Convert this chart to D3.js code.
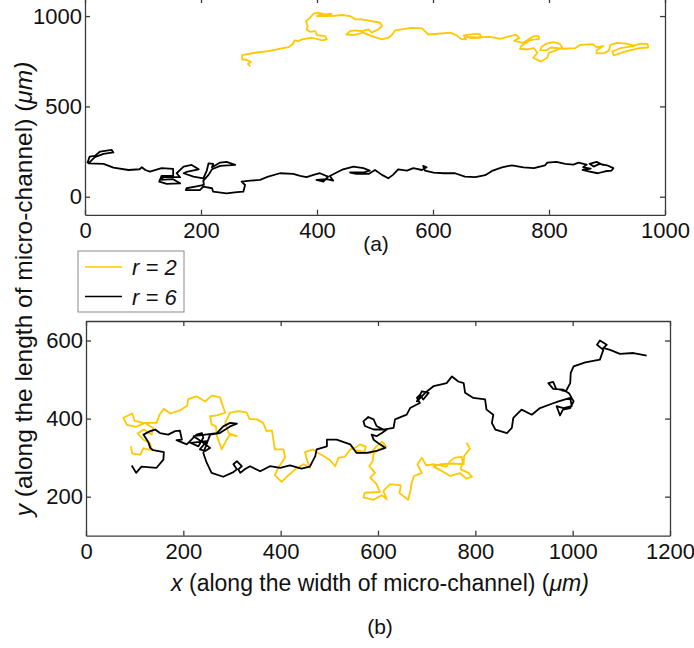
<!DOCTYPE html>
<html>
<head>
<meta charset="utf-8">
<script src="https://cdn.jsdelivr.net/npm/d3@7"></script>
<style>
body { margin: 0; background: #fff; }
text { font-family: "Liberation Sans", Arial, sans-serif; }
</style>
</head>
<body>
<script>
const wid = 694, hei = 648;     // width & height

// (a) r = 2 track, [x, y] in um
const trackA2 = [
    [285,722],[281,735],[286,747],[277,759],[271,759],[271,784],[293,797],[316,806],[339,821],[351,828],
    [359,847],[361,865],[368,861],[374,871],[391,880],[409,865],[417,871],[414,889],[400,895],[397,917],
    [388,913],[382,926],[384,945],[381,972],[388,991],[394,1013],[402,1019],[414,1009],[425,1013],[420,1000],
    [400,1000],[405,1009],[425,1000],[443,1006],[457,1000],[466,982],[477,982],[494,972],[509,963],[512,945],
    [506,926],[499,917],[494,908],[489,926],[477,917],[466,921],[457,917],[451,898],[463,895],[480,908],
    [494,889],[512,871],[523,880],[529,895],[535,921],[546,926],[563,935],[581,932],[586,917],[592,898],
    [609,902],[630,908],[641,893],[648,874],[657,871],[653,893],[670,900],[681,900],[683,880],[667,878],
    [658,885],[675,882],[698,885],[716,874],[733,889],[743,897],[749,878],[740,863],[755,852],[763,867],
    [774,889],[782,889],[783,874],[768,867],[753,837],[750,819],[763,815],[774,822],[780,797],[773,769],
    [786,748],[797,769],[800,797],[813,811],[823,826],[818,848],[808,856],[796,848],[787,830],[785,811],
    [795,810],[803,826],[824,819],[845,822],[854,841],[875,845],[882,828],[894,834],[882,811],[882,793],
    [895,795],[903,808],[906,841],[917,852],[933,848],[946,837],[958,848],[970,845],[971,826],[956,822],
    [941,811],[925,797],[912,782],[909,804],[923,822],[937,830],[948,834]
];

// (a) r = 6 track
const trackA6 = [
    [4,185],[8,222],[17,226],[26,250],[46,259],[49,245],[32,237],[17,219],[6,185],[32,182],
    [49,161],[75,148],[94,152],[98,163],[104,148],[112,139],[132,158],[152,154],[152,115],[132,115],
    [128,84],[141,71],[164,74],[152,97],[129,93],[135,108],[164,108],[158,130],[170,167],[184,176],
    [196,152],[175,137],[170,130],[187,111],[204,102],[210,145],[213,185],[221,182],[219,163],[233,189],
    [244,193],[259,176],[233,171],[219,152],[213,121],[204,89],[205,65],[190,56],[175,47],[174,37],
    [198,37],[204,56],[219,47],[221,28],[244,19],[262,26],[273,28],[276,65],[270,84],[285,89],
    [302,93],[313,108],[336,130],[359,126],[371,115],[382,108],[394,121],[405,130],[419,111],[411,84],
    [399,93],[417,97],[428,89],[422,115],[445,152],[463,167],[480,158],[491,145],[480,134],[457,134],
    [468,126],[489,126],[500,148],[512,121],[523,102],[531,121],[540,152],[555,145],[566,158],[581,148],
    [589,163],[583,171],[586,145],[601,134],[618,130],[638,130],[655,111],[673,108],[690,119],[703,145],
    [719,163],[736,174],[756,163],[774,158],[793,173],[797,189],[813,193],[828,182],[842,178],[851,189],
    [865,178],[859,163],[872,156],[858,148],[868,141],[884,130],[897,141],[908,145],[911,158],[900,174],
    [887,182],[877,167],[870,182],[882,193],[894,174]
];

// (b) r = 2 track
const trackB2 = [
    [92,329],[95,311],[111,307],[118,324],[135,319],[132,336],[118,346],[106,362],[119,372],[135,359],
    [138,376],[121,389],[103,379],[84,384],[77,402],[95,413],[100,394],[118,389],[145,389],[151,410],
    [160,425],[173,413],[193,421],[208,433],[210,450],[227,457],[245,444],[258,459],[275,455],[281,433],
    [286,415],[269,408],[255,406],[258,385],[267,380],[269,355],[279,321],[289,346],[296,359],[310,355],
    [293,363],[286,389],[296,415],[313,419],[330,416],[336,399],[351,398],[364,389],[371,368],[382,370],
    [385,346],[388,321],[406,321],[409,300],[395,274],[388,255],[402,238],[416,255],[430,270],[447,283],
    [460,274],[454,295],[450,314],[467,321],[474,314],[488,304],[501,294],[512,278],[519,300],[532,302],
    [543,321],[553,325],[563,334],[575,328],[571,312],[560,311],[556,319],[584,311],[597,329],[608,341],
    [617,328],[601,321],[591,311],[589,291],[582,278],[594,261],[584,249],[597,232],[604,212],[573,210],
    [570,198],[591,192],[608,204],[618,193],[611,215],[625,232],[647,229],[644,209],[662,192],[667,217],
    [669,234],[674,253],[690,261],[681,283],[690,300],[699,280],[714,283],[728,280],[741,277],[748,291],
    [758,300],[772,302],[774,289],[770,270],[786,261],[793,251],[781,246],[769,260],[748,253],[731,266],
    [714,277],[728,283],[755,285],[776,283],[777,304],[789,323],[782,338]
];

// (b) r = 6 track
const trackB6 = [
    [94,280],[103,261],[114,277],[145,274],[159,295],[160,314],[138,319],[132,325],[128,340],[118,359],
    [132,368],[142,372],[152,363],[169,359],[183,368],[193,369],[197,346],[186,345],[207,334],[227,359],
    [238,363],[241,351],[231,329],[214,338],[248,342],[234,321],[245,317],[255,325],[241,338],[221,355],
    [269,363],[282,380],[296,389],[310,387],[296,380],[275,363],[255,359],[241,312],[248,287],[258,261],
    [282,251],[303,263],[310,270],[303,283],[310,291],[320,278],[313,270],[317,261],[327,271],[337,278],
    [358,265],[378,278],[399,274],[419,280],[443,272],[460,277],[471,304],[474,321],[495,329],[495,346],
    [515,346],[543,334],[556,312],[577,312],[597,317],[615,325],[604,334],[591,346],[587,359],[597,355],
    [608,363],[618,372],[591,372],[573,381],[570,393],[580,404],[591,398],[597,381],[611,372],[632,376],
    [635,398],[659,410],[666,427],[686,440],[680,453],[686,461],[693,449],[704,466],[690,470],[680,444],
    [697,466],[714,483],[728,487],[741,491],[752,508],[765,495],[776,491],[779,466],[796,453],[820,449],
    [823,423],[837,410],[834,389],[841,372],[865,363],[875,376],[878,402],[895,423],[916,410],[933,427],
    [957,438],[971,444],[995,453],[998,432],[981,427],[967,432],[974,408],[980,423],[995,427],[1002,444],
    [993,464],[981,474],[960,476],[950,491],[960,494],[966,476],[986,470],[995,491],[996,517],[1002,534],
    [1026,544],[1056,551],[1063,576],[1050,589],[1056,600],[1070,589],[1063,581],[1077,576],[1097,566],
    [1125,568],[1152,561]
];

const xTicksA = [0, 200, 400, 600, 800, 1000];
const yTicksA = [0, 500, 1000];
const xTicksB = [0, 200, 400, 600, 800, 1000, 1200];
const yTicksB = [200, 400, 600];
const seriesNames = ['r = 2', 'r = 6'];
const seriesColors = ['#ffc800', '#000000'];

const axisColor = '#3a3a3a';
const tickFont = 22;

let svg = d3.select('body')
    .append('svg')
    .attr('width', wid)
    .attr('height', hei);

function styleAxis(g, labels) {
    g.attr('font-size', tickFont)
        .attr('font-family', '"Liberation Sans", Arial, sans-serif');
    g.selectAll('path, line').attr('stroke', axisColor).attr('stroke-width', 1.3);
    g.selectAll('text').attr('fill', '#111');
    if (!labels) g.selectAll('text').remove();
}

function drawPanel(x, y, xTicks, yTicks, tracks) {
    let [y0, y1] = y.range();
    let [x0, x1] = x.range();
    let fmt = d3.format('d');

    // tracks: r = 2 first, r = 6 on top
    let line = d3.line().x((d) => x(d[0])).y((d) => y(d[1]));
    tracks.forEach((t, i) => {
        svg.append('path')
            .attr('d', line(t))
            .attr('fill', 'none')
            .attr('stroke', seriesColors[i])
            .attr('stroke-width', 1.8)
            .attr('stroke-linejoin', 'round');
    });

    svg.append('g').attr('transform', `translate(0,${y0})`)
        .call(d3.axisBottom(x).tickValues(xTicks).tickFormat(fmt).tickSize(-5).tickSizeOuter(0).tickPadding(8))
        .call((g) => styleAxis(g, true));
    svg.append('g').attr('transform', `translate(0,${y1})`)
        .call(d3.axisTop(x).tickValues(xTicks).tickSize(-5).tickSizeOuter(0))
        .call((g) => styleAxis(g, false));
    svg.append('g').attr('transform', `translate(${x0},0)`)
        .call(d3.axisLeft(y).tickValues(yTicks).tickFormat(fmt).tickSize(-5).tickSizeOuter(0).tickPadding(3))
        .call((g) => styleAxis(g, true));
    svg.append('g').attr('transform', `translate(${x1},0)`)
        .call(d3.axisRight(y).tickValues(yTicks).tickSize(-5).tickSizeOuter(0))
        .call((g) => styleAxis(g, false));
}

// panel (a)
let xA = d3.scaleLinear().domain([0, 1000]).range([85, 665]);
let yA = d3.scaleLinear().domain([-100, 1100]).range([214.8, -2]);
drawPanel(xA, yA, xTicksA, yTicksA, [trackA2, trackA6]);

// panel (b)
let xB = d3.scaleLinear().domain([0, 1200]).range([86, 670]);
let yB = d3.scaleLinear().domain([100, 650]).range([535.7, 321]);
drawPanel(xB, yB, xTicksB, yTicksB, [trackB2, trackB6]);

// captions
svg.append('text').attr('x', 376).attr('y', 251)
    .attr('text-anchor', 'middle').attr('font-size', 21).attr('fill', '#111').text('(a)');
svg.append('text').attr('x', 380).attr('y', 634)
    .attr('text-anchor', 'middle').attr('font-size', 21).attr('fill', '#111').text('(b)');

// axis titles
let xt = svg.append('text').attr('x', 380).attr('y', 591)
    .attr('text-anchor', 'middle').attr('font-size', 23).attr('fill', '#111');
xt.append('tspan').attr('font-style', 'italic').text('x');
xt.append('tspan').text(' (along the width of micro-channel) (');
xt.append('tspan').attr('font-style', 'italic').text('\u03bcm)');

let yt = svg.append('text')
    .attr('transform', 'translate(32,289) rotate(-90)')
    .attr('text-anchor', 'middle').attr('font-size', 24.5).attr('fill', '#111');
yt.append('tspan').attr('font-style', 'italic').text('y');
yt.append('tspan').text(' (along the length of micro-channel) (');
yt.append('tspan').attr('font-style', 'italic').text('\u03bcm)');

// legend
let legend = svg.append('g');
legend.append('rect')
    .attr('x', 78).attr('y', 251).attr('width', 106).attr('height', 61)
    .attr('fill', '#fff').attr('stroke', '#8a8a8a').attr('stroke-width', 1);
seriesNames.forEach((name, i) => {
    let ly = 267 + i * 29.5;
    legend.append('line')
        .attr('x1', 85).attr('x2', 122).attr('y1', ly).attr('y2', ly)
        .attr('stroke', seriesColors[i]).attr('stroke-width', 1.6);
    legend.append('text')
        .attr('x', 132).attr('y', ly + 8)
        .attr('font-size', 22).attr('font-style', 'italic').attr('fill', '#111')
        .text(name);
});
</script>
</body>
</html>
